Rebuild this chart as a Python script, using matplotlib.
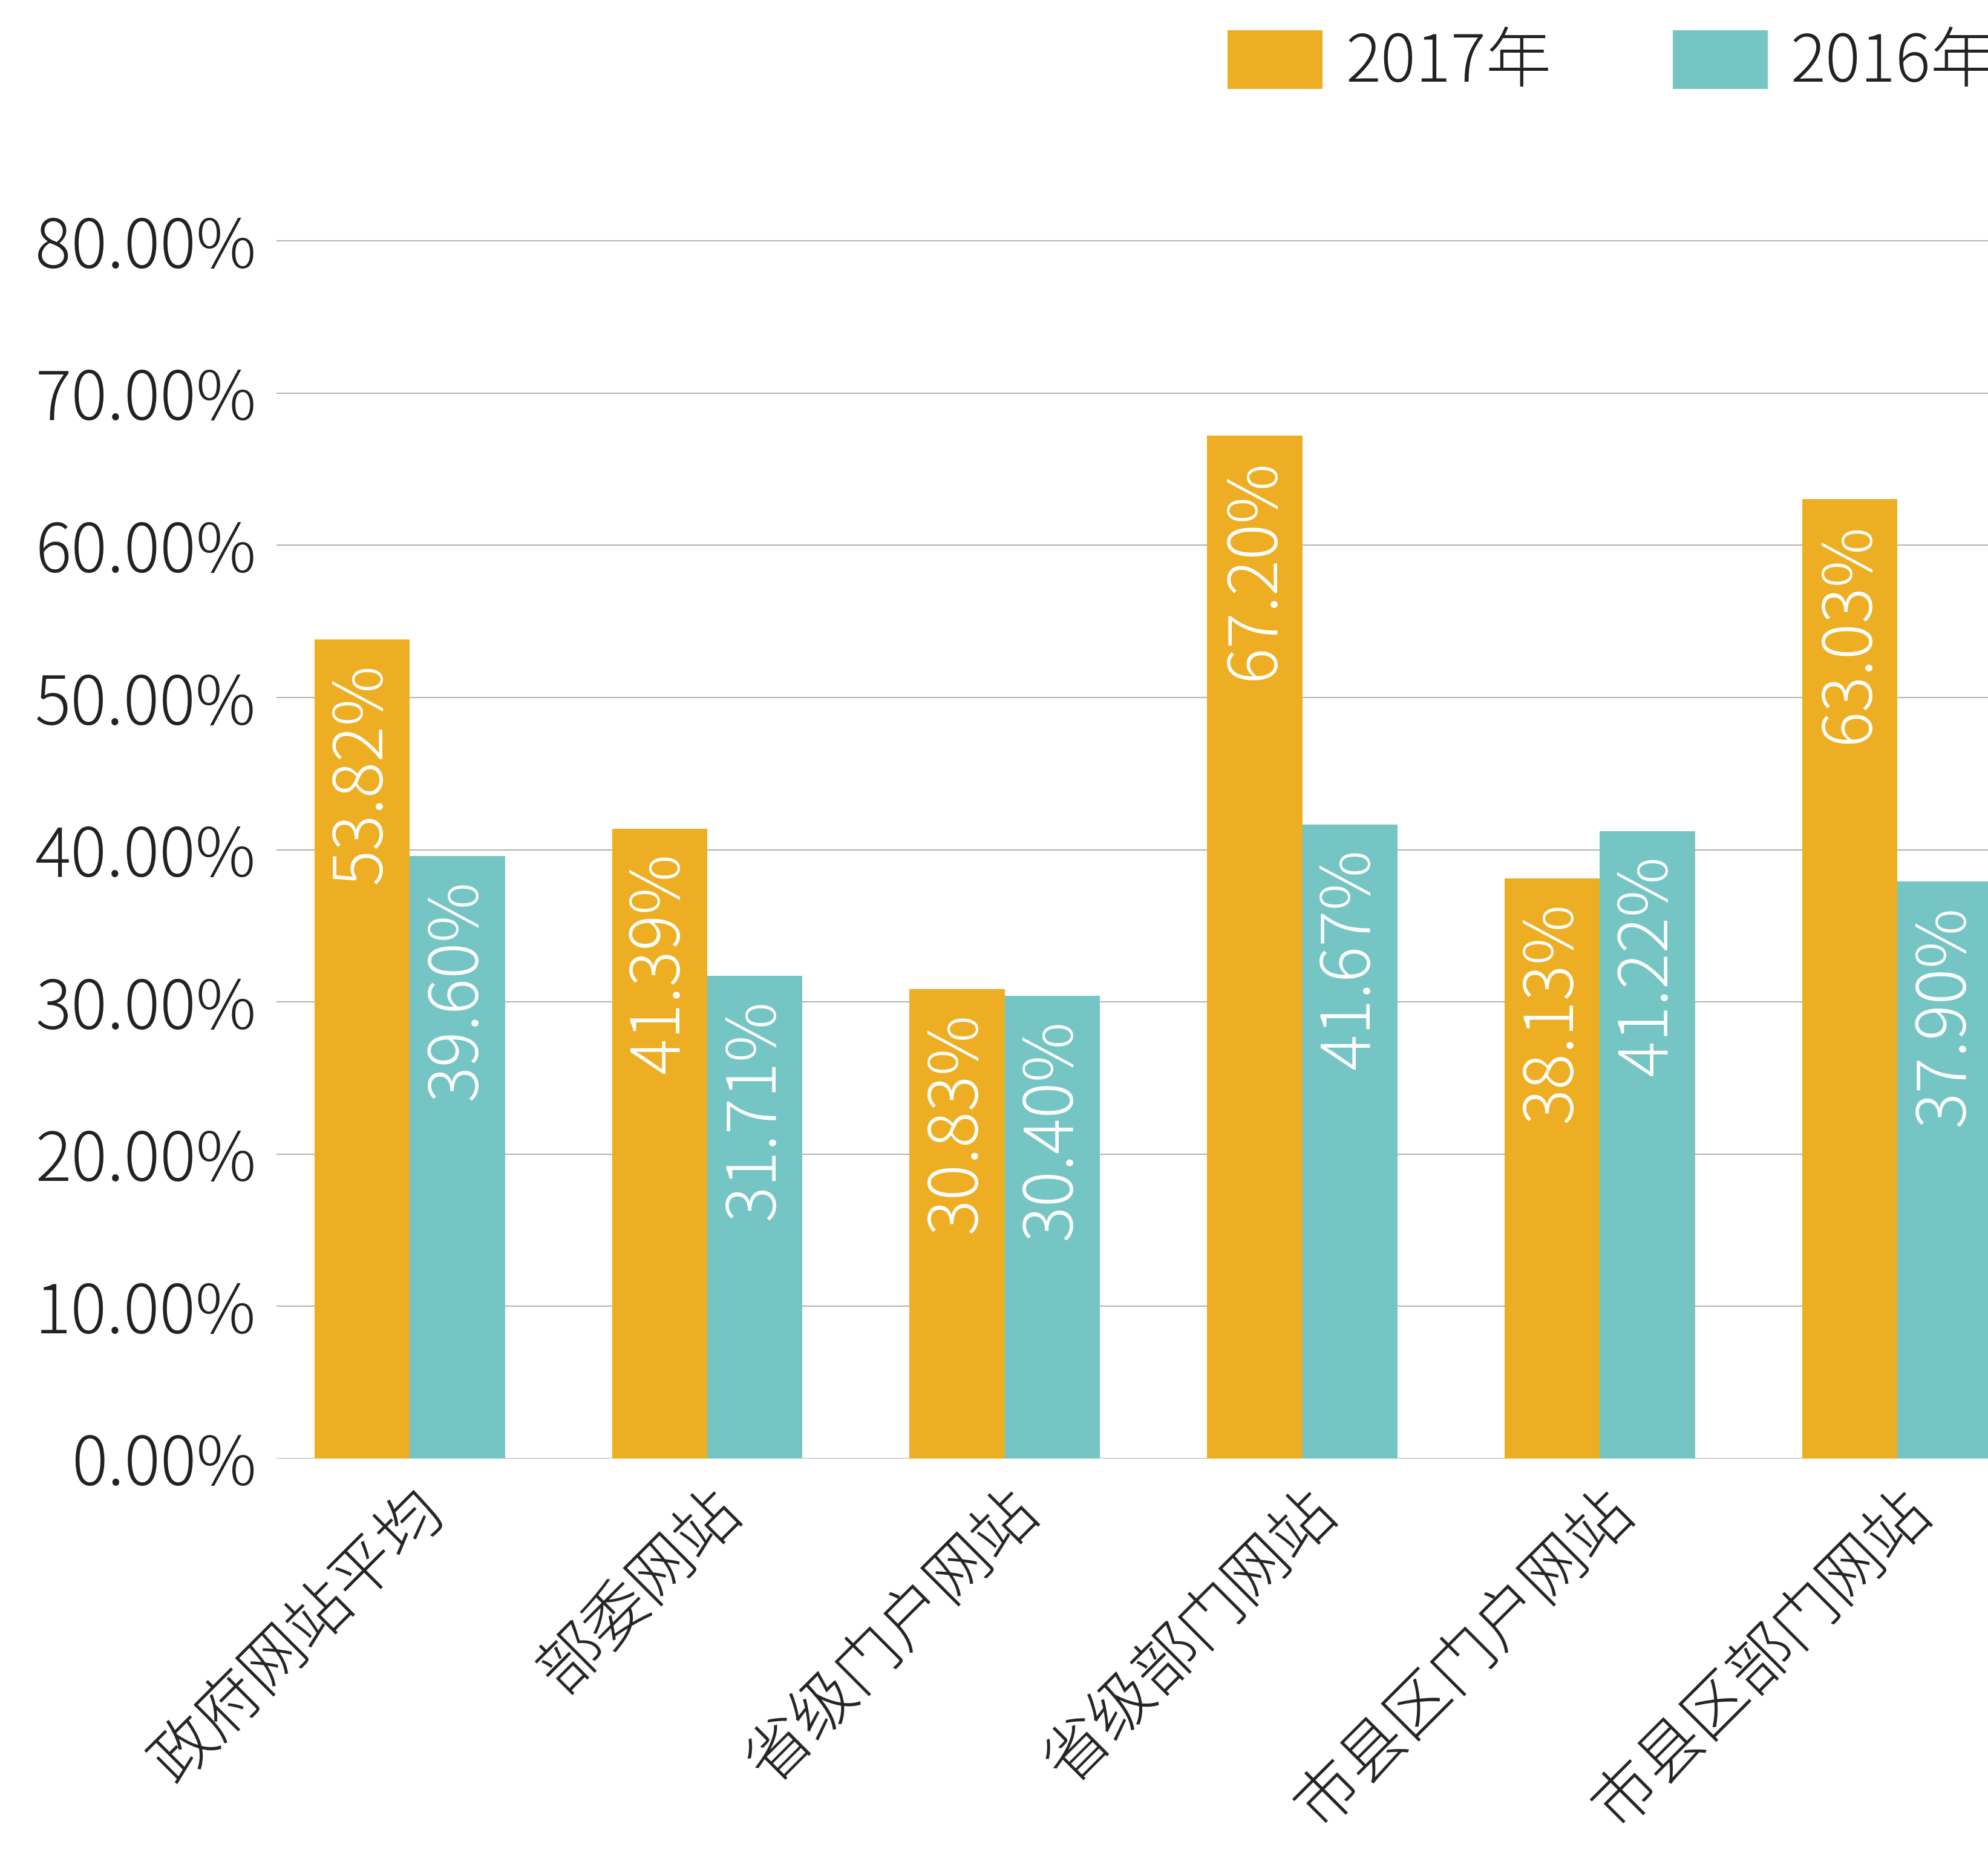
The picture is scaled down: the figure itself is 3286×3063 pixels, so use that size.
import matplotlib
matplotlib.use("Agg")
import matplotlib.pyplot as plt
import numpy as np

plt.rcParams["font.family"] = ["Noto Sans CJK JP", "DejaVu Sans"]
plt.rcParams["font.weight"] = 300

categories = ["政府网站平均", "部委网站", "省级门户网站", "省级部门网站", "市县区门户网站", "市县区部门网站"]
series_names = ["2017年", "2016年"]
vals_2017 = [53.82, 41.39, 30.83, 67.20, 38.13, 63.03]
vals_2016 = [39.60, 31.71, 30.40, 41.67, 41.22, 37.90]
yticks = [0, 10, 20, 30, 40, 50, 60, 70, 80]

orange = "#EDAE23"
teal = "#75C5C4"
fs = 80

fig = plt.figure(figsize=(32.87, 30.63), dpi=100)
ax = fig.add_axes([218 / 1568, 1 - 1150 / 1461, 1 - 218 / 1568, (1150 - 166) / 1461])

x = np.arange(len(categories))
w = 0.32
b1 = ax.bar(x - w / 2, vals_2017, w, color=orange, label=series_names[0], zorder=3)
b2 = ax.bar(x + w / 2, vals_2016, w, color=teal, label=series_names[1], zorder=3)

# white value labels inside the bars, near the top
for bars, vals in [(b1, vals_2017), (b2, vals_2016)]:
    for rect, v in zip(bars, vals):
        ax.annotate(f"{v:.2f}%", (rect.get_x() + rect.get_width() / 2, v),
                    xytext=(0, -28), textcoords="offset points",
                    rotation=90, ha="center", va="top", color="white",
                    fontsize=fs, zorder=4)

ax.set_xlim(-0.448, 5.307)
ax.set_ylim(0, 82)
ax.set_yticks(yticks)
ax.set_yticklabels([f"{t:.2f}%" for t in yticks], fontsize=fs, color="#222222")
ax.set_xticks(x)
ax.set_xticklabels(categories, fontsize=76, color="#222222", rotation=45,
                   ha="right", va="top", rotation_mode="anchor")
ax.tick_params(axis="y", length=0, pad=24)
ax.tick_params(axis="x", length=0, pad=24)
ax.yaxis.grid(True, color="#b5b5b5", linewidth=1.5, zorder=0)
ax.set_axisbelow(True)
for s in ax.spines.values():
    s.set_visible(False)

ax.legend(loc="center left", bbox_to_anchor=(968 / 1568, 1 - 50 / 1461),
          bbox_transform=fig.transFigure, ncol=2, frameon=False,
          fontsize=78, handlelength=1.45, handleheight=1.0, handletextpad=0.35,
          columnspacing=1.85, borderpad=0, borderaxespad=0, labelcolor="#222222")

fig.savefig("out.png", dpi=100)
